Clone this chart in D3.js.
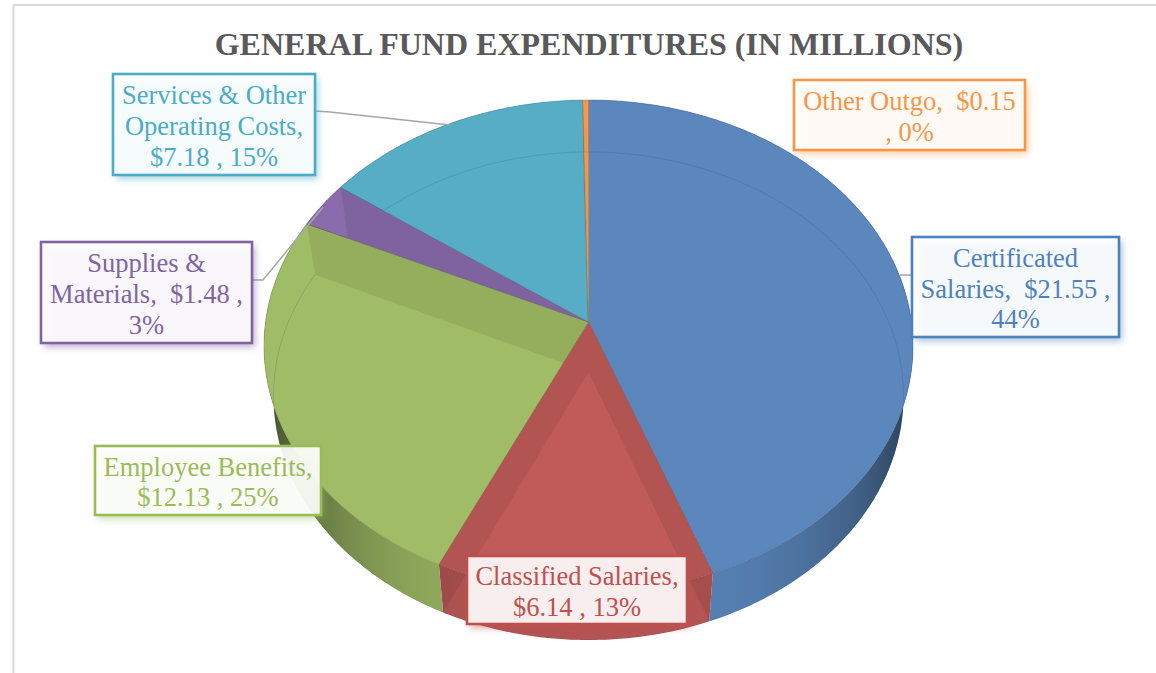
<!DOCTYPE html>
<html>
<head>
<meta charset="utf-8">
<script src="https://cdn.jsdelivr.net/npm/d3@7/dist/d3.min.js"></script>
<style>
  html, body { margin: 0; padding: 0; background: #fff; }
  svg { display: block; }
  text { font-family: "Liberation Serif", "Times New Roman", serif; }
</style>
</head>
<body>
<svg id="chart" width="1156" height="673"></svg>
<script>
// Expenditure data, in millions of dollars
const categories = ["Certificated Salaries", "Classified Salaries", "Employee Benefits",
                    "Supplies & Materials", "Services & Other Operating Costs", "Other Outgo"];
const amounts = [21.55, 6.14, 12.13, 1.48, 7.18, 0.15];
const sliceColors = ["#5B87BD", "#C05B59", "#A0BC66", "#8A6CAC", "#56ADC5", "#F79646"];
const labelColors = ["#4F81BD", "#C0504D", "#9BBB59", "#8064A2", "#4BACC6", "#F79646"];
const chartTitle = "GENERAL FUND EXPENDITURES (IN MILLIONS)";

// Where each callout wraps
const labelLines = [
  d => ["Certificated", `Salaries,  ${d.money} ,`, d.pct],
  d => ["Classified Salaries,", `${d.money} , ${d.pct}`],
  d => ["Employee Benefits,", `${d.money} , ${d.pct}`],
  d => ["Supplies &", `Materials,  ${d.money} ,`, d.pct],
  d => ["Services & Other", "Operating Costs,", `${d.money} , ${d.pct}`],
  d => [`Other Outgo,  ${d.money}`, `, ${d.pct}`]
];

// Callout rectangles [x, y, width, height]
const labelBoxes = [
  [912, 237, 207, 100],
  [467, 556, 220, 68],
  [95, 446, 226, 69],
  [41, 242, 211, 101],
  [113, 74, 202, 101],
  [794, 80, 231, 70]
];

// Leader lines, callout side first
const leaders = [
  [[912, 275], [900, 275]],
  null,
  null,
  [[252, 280], [263, 280], [323, 207]],
  [[315, 111], [330, 112], [450, 125]],
  null
];

// Perspective view of a disc: the near edge is lower and wider than the far edge.
// y(v) = (a v + apex) / (1 + p v), with v running from -1 (far) to +1 (near).
function disc(cx, top, apex, bottom, rx) {
  const p = -(top + bottom - 2 * apex) / (bottom - top);
  const a = bottom * (1 + p) - apex;
  const k = rx * Math.sqrt(1 - p * p);
  const at = angle => {
    const u = Math.sin(angle), v = -Math.cos(angle), w = 1 + p * v;
    return [cx + k * u / w, (a * v + apex) / w];
  };
  return { at, apex: [cx, apex] };
}

const upper = disc(588.5, 100, 322, 592, 324.5);
const lower = disc(588.5, 152, 372, 640, 315);

const total = d3.sum(amounts);
const slices = d3.pie().sort(null).startAngle(0).endAngle(2 * Math.PI)(amounts);

const arcPoints = (face, a0, a1) => {
  const n = Math.max(2, Math.ceil((a1 - a0) / 0.01));
  return d3.range(n + 1).map(i => face.at(a0 + (a1 - a0) * i / n));
};
const poly = d3.line().curve(d3.curveLinear);
const closed = pts => poly(pts) + "Z";

const svg = d3.select("#chart");
const defs = svg.append("defs");

// Outer frame of the chart area
svg.append("path")
  .attr("d", "M13.5,673V5H1156")
  .attr("fill", "none").attr("stroke", "#D9D9D9").attr("stroke-width", 2);

// Title
svg.append("text")
  .attr("x", 589).attr("y", 55)
  .attr("text-anchor", "middle")
  .attr("font-size", 32).attr("font-weight", "bold")
  .attr("fill", "#595959")
  .text(chartTitle);

// Everything outside the upper disc, used to keep rim shading off the upper faces
defs.append("clipPath").attr("id", "outside-upper")
  .append("path")
  .attr("clip-rule", "evenodd")
  .attr("d", "M0,0H1156V673H0Z" + closed(arcPoints(upper, 0, 2 * Math.PI)));

const sideStops = [[0, 2.3], [0.05, 1.6], [0.13, 0.8], [0.22, 0.4], [0.34, 0.22],
                   [0.72, 0.18], [0.82, 0.45], [0.92, 1.0], [1, 2.1]];

slices.forEach((s, i) => {
  const base = d3.color(sliceColors[i]);
  const g = defs.append("linearGradient")
    .attr("id", `side-${i}`).attr("gradientUnits", "userSpaceOnUse")
    .attr("x1", 264).attr("x2", 913).attr("y1", 0).attr("y2", 0);
  sideStops.forEach(([o, k]) =>
    g.append("stop").attr("offset", o).attr("stop-color", base.darker(k).formatHex()));
  s.rim = closed([...arcPoints(upper, s.startAngle, s.endAngle),
                  ...arcPoints(lower, s.startAngle, s.endAngle).reverse()]);
  s.top = closed([upper.apex, ...arcPoints(upper, s.startAngle, s.endAngle)]);
  defs.append("clipPath").attr("id", `top-${i}`).append("path").attr("d", s.top);
  defs.append("clipPath").attr("id", `rim-${i}`).append("path").attr("d", s.rim);
});

const pie = svg.append("g");

// Rim around the disc
pie.selectAll("path.rim").data(slices).join("path")
  .attr("class", "rim")
  .attr("d", d => d.rim)
  .attr("fill", (d, i) => `url(#side-${i})`);

// Upper faces
pie.selectAll("path.top").data(slices).join("path")
  .attr("class", "top")
  .attr("data-category", (d, i) => categories[i])
  .attr("d", d => d.top)
  .attr("fill", (d, i) => sliceColors[i])
  .attr("stroke", (d, i) => d3.color(sliceColors[i]).darker(0.8).formatHex())
  .attr("stroke-opacity", 0.55)
  .attr("stroke-width", 0.8);

// Cut faces and underside edge showing through each translucent slice
function seeThrough(layer, s) {
  [s.startAngle, s.endAngle].forEach(angle => {
    layer.append("path")
      .attr("d", closed([upper.apex, upper.at(angle), lower.at(angle), lower.apex]))
      .attr("fill", "#000").attr("fill-opacity", 0.075);
  });
  layer.append("path")
    .attr("d", poly(arcPoints(lower, s.startAngle, s.endAngle)))
    .attr("fill", "none").attr("stroke", "#1F3A5A")
    .attr("stroke-opacity", 0.2).attr("stroke-width", 0.8);
}
slices.forEach((s, i) => {
  seeThrough(pie.append("g").attr("clip-path", `url(#top-${i})`), s);
  seeThrough(pie.append("g").attr("clip-path", `url(#rim-${i})`)
    .append("g").attr("clip-path", "url(#outside-upper)"), s);
});

// Leader lines
svg.append("g").selectAll("path").data(leaders.filter(Boolean)).join("path")
  .attr("d", d => poly(d))
  .attr("fill", "none").attr("stroke", "#A6A6A6").attr("stroke-width", 1.5);

// Callouts with coloured border and soft shadow
const boxes = svg.append("g");
slices.forEach((s, i) => {
  const [x, y, w, h] = labelBoxes[i];
  const color = labelColors[i];
  const blur = defs.append("filter").attr("id", `glow-${i}`)
    .attr("x", "-15%").attr("y", "-25%").attr("width", "130%").attr("height", "150%");
  blur.append("feGaussianBlur").attr("stdDeviation", 3.5);
  boxes.append("rect")
    .attr("x", x + 3).attr("y", y + 4).attr("width", w).attr("height", h)
    .attr("fill", color).attr("opacity", 0.5)
    .attr("filter", `url(#glow-${i})`);
  boxes.append("rect")
    .attr("x", x).attr("y", y).attr("width", w).attr("height", h)
    .attr("fill", "#fff").attr("fill-opacity", 0.9)
    .attr("stroke", color).attr("stroke-width", 2.6);
  const info = {
    money: `$${amounts[i].toFixed(2)}`,
    pct: `${Math.round(amounts[i] / total * 100)}%`
  };
  const lines = labelLines[i](info);
  const lineGap = 30.6;
  const firstY = y + h / 2 - (lines.length - 1) * lineGap / 2 + 10.5;
  lines.forEach((line, j) => {
    boxes.append("text")
      .attr("x", x + w / 2).attr("y", firstY + j * lineGap)
      .attr("text-anchor", "middle")
      .attr("font-size", 26.5)
      .attr("fill", color)
      .style("white-space", "pre")
      .text(line);
  });
});
</script>
</body>
</html>
